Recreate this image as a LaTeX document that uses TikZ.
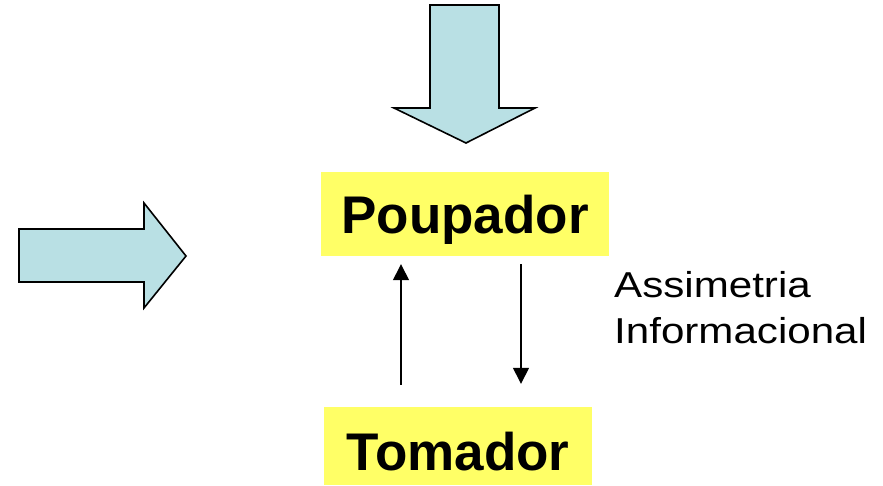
\documentclass[tikz,border=0pt]{standalone}
\usepackage{fontspec}
\usepackage{graphicx}
\setmainfont{Liberation Sans}
\usetikzlibrary{arrows.meta}
\definecolor{arrowfill}{RGB}{185,224,228}
\definecolor{boxfill}{RGB}{255,255,102}
\tikzset{
  blockarrow/.style={draw=black, fill=arrowfill, line width=1.6pt, line join=miter},
  rolebox/.style={fill=boxfill, inner sep=0pt, font=\fontsize{53}{58}\selectfont\bfseries},
  flowline/.style={line width=1.4pt, -{Triangle[width=16pt,length=16pt]}},
  sidenote/.style={inner sep=0pt, anchor=base west, font=\fontsize{36}{44}\selectfont}
}
\begin{document}
\begin{tikzpicture}[x=1pt,y=-1pt]
  \useasboundingbox (0,0) rectangle (883,485);

  % broad arrows pointing at the saver
  \draw[blockarrow] (430,5) -- (499,5) -- (499,108) -- (535,108) -- (466,143)
    -- (394,108) -- (430,108) -- cycle;
  \draw[blockarrow] (19,229) -- (144,229) -- (144,203) -- (186,256) -- (144,308)
    -- (144,282) -- (19,282) -- cycle;

  % the two parties
  \node[rolebox, minimum width=288pt, minimum height=84pt,
        text height=61pt, text depth=23pt] (pou) at (465,214) {Poupador};
  \node[rolebox, minimum width=268pt, minimum height=78pt,
        text height=63pt, text depth=15pt] (tom) at (458,446) {Tomador};

  % exchange between them
  \coordinate (upx) at (401,0);
  \coordinate (downx) at (521,0);
  \draw[flowline, shorten <=22pt, shorten >=8pt] (tom.north -| upx) -- (pou.south -| upx);
  \draw[flowline, shorten <=8pt, shorten >=23pt] (pou.south -| downx) -- (tom.north -| downx);

  % side label
  \node[sidenote] (asym1) at (614,297) {\scalebox{1.17}[1]{Assimetria}};
  \node[sidenote] (asym2) at (614,343) {\scalebox{1.17}[1]{Informacional}};
\end{tikzpicture}
\end{document}
